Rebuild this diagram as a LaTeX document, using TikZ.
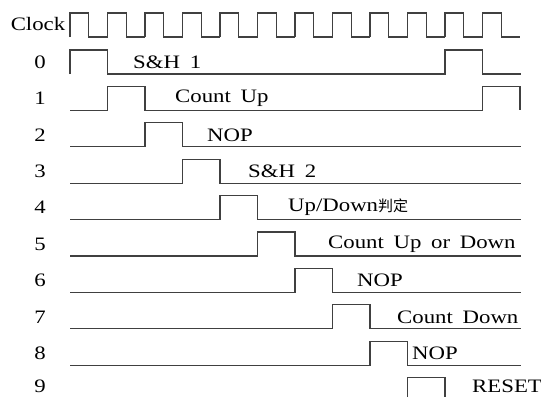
\documentclass[tikz,border=0pt]{standalone}
\usepackage{fontspec}
\setmainfont{Liberation Serif}[FakeStretch=1.2, WordSpace=1.7]
\newfontfamily\cjk{Noto Sans CJK SC}

\begin{document}
\begin{tikzpicture}[
  x=1pt, y=-1pt,
  wave/.style={line width=1.1pt, draw=black!75},
  lbl/.style={anchor=west, inner sep=0pt, font=\fontsize{19}{21}\selectfont},
  num/.style={inner sep=0pt, font=\fontsize{19}{21}\selectfont}
]
\useasboundingbox (0,0) rectangle (541,397);

% Clock
\node[num] (clk) at (38,24) {Clock};
\foreach \k in {0,...,11}
  \draw[wave] ({70+37.5*\k},37) -- ({70+37.5*\k},13) -- ({88.75+37.5*\k},13)
    -- ({88.75+37.5*\k},37) -- ({107.5+37.5*\k},37);

% Row numbers
\foreach \k in {0,...,8}
  \node[num] (n\k) at (40,{62+36.4*\k}) {\k};
\node[num] (n9) at (40,386) {9};

% Waveforms
\draw[wave] (70,74) -- (70,50) -- (107.5,50) -- (107.5,74) -- (445,74)
  -- (445,50) -- (482.5,50) -- (482.5,74) -- (521,74);
\draw[wave] (70,110.4) -- (107.5,110.4) -- (107.5,86.4) -- (145,86.4) -- (145,110.4)
  -- (482.5,110.4) -- (482.5,86.4) -- (520,86.4) -- (520,110.4);
\foreach \k in {2,...,8}
  \draw[wave] (70,{74+36.4*\k}) -- ({70+37.5*\k},{74+36.4*\k}) -- ({70+37.5*\k},{50+36.4*\k})
    -- ({107.5+37.5*\k},{50+36.4*\k}) -- ({107.5+37.5*\k},{74+36.4*\k}) -- (521,{74+36.4*\k});
\draw[wave] (407.5,397) -- (407.5,377.6) -- (445,377.6) -- (445,397);

% Labels
\node[lbl] (t0) at (133,62) {S\&H 1};
\node[lbl] (t1) at (175,98.4) {Count Up};
\node[lbl] (t2) at (207,134.8) {NOP};
\node[lbl] (t3) at (248,171.2) {S\&H 2};
\node[lbl] (t4) at (288,207.6) {Up/Down{\cjk\fontsize{15}{17}\selectfont 判定}};
\node[lbl] (t5) at (328,244) {Count Up or Down};
\node[lbl] (t6) at (357,280.4) {NOP};
\node[lbl] (t7) at (397,316.8) {Count Down};
\node[lbl] (t8) at (412,353.2) {NOP};
\node[lbl] (t9) at (472,386) {RESET};

\end{tikzpicture}
\end{document}
